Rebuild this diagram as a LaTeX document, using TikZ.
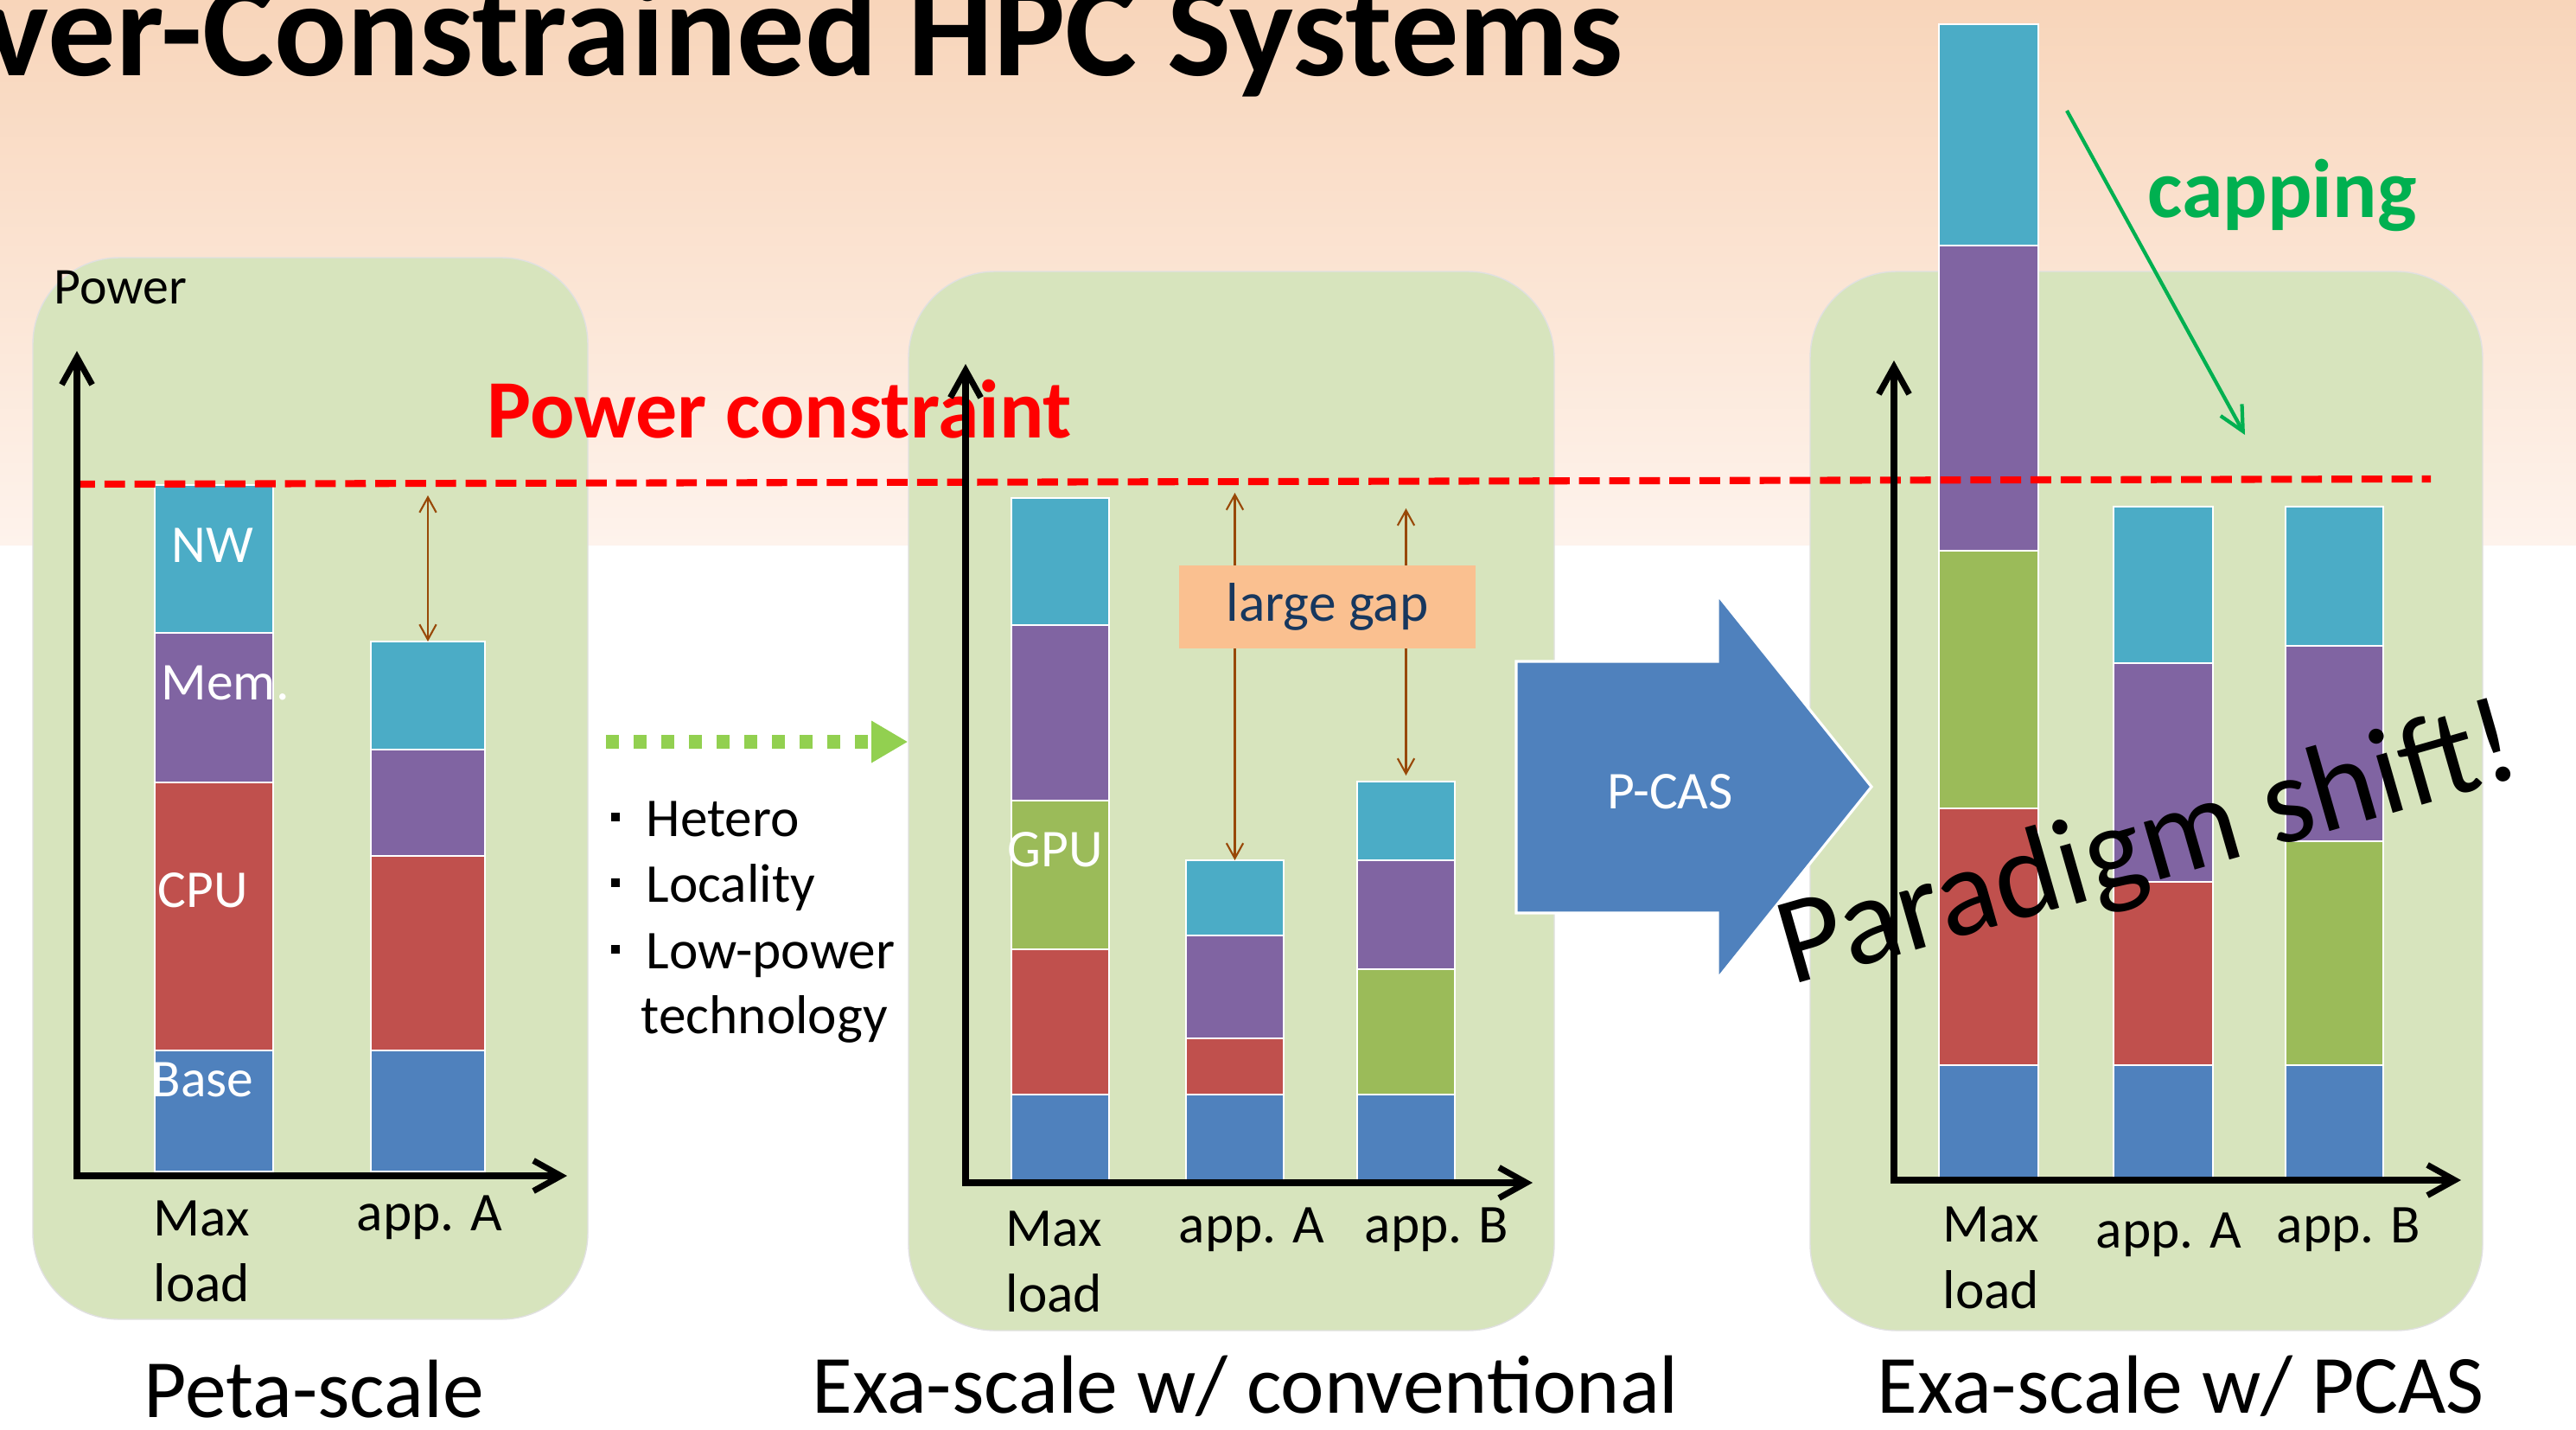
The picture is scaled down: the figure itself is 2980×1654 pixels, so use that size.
\documentclass[tikz,border=0pt]{standalone}
\usepackage{fontspec}
\setmainfont{Carlito}
\usepackage{tikz}
\usetikzlibrary{arrows.meta,positioning,fit,calc}
\definecolor{SlideTop}{HTML}{F8D5BA}
\definecolor{SlideFade}{HTML}{FEF3EC}
\definecolor{PanelGreen}{HTML}{D7E4BD}
\definecolor{BaseBlue}{HTML}{4F81BD}
\definecolor{CpuRed}{HTML}{C0504D}
\definecolor{MemPurple}{HTML}{8064A2}
\definecolor{NetTeal}{HTML}{4BACC6}
\definecolor{GpuGreen}{HTML}{9BBB59}
\definecolor{GapOrange}{HTML}{FAC090}
\definecolor{GapText}{HTML}{17375E}
\definecolor{GapBrown}{HTML}{984807}
\definecolor{CapGreen}{HTML}{00B050}
\definecolor{ShiftGreen}{HTML}{92D050}
\tikzset{
  panel/.style={draw=black!12, thin, fill=PanelGreen, rounded corners=1cm, inner sep=0pt},
  barpart/.style={draw=white, line width=0.6pt, inner sep=0pt, outer sep=0pt},
  axisline/.style={line width=2pt, >={Straight Barb[length=9pt,width=10pt]}, <->},
  limitline/.style={draw=red, line width=2.3pt, dash pattern=on 6.8pt off 3.1pt},
  gapwire/.style={draw=GapBrown, line width=0.6pt, >={Straight Barb[length=5pt,width=5.5pt]}, <->},
  capwire/.style={draw=CapGreen, line width=1.2pt, -{Straight Barb[length=8pt,width=8pt]}},
  shiftwire/.style={draw=ShiftGreen, line width=4.3pt, dash pattern=on 4.3pt off 4.8pt,
    -{Triangle[length=12pt,width=13pt]}},
  gapbox/.style={fill=GapOrange, text=GapText, inner sep=0pt, minimum width=3.43cm,
    minimum height=0.96cm, font=\fontsize{18}{21.6}\selectfont},
  axislabel/.style={inner sep=0pt, anchor=base west, font=\fontsize{18}{21.6}\selectfont},
  inbar/.style={axislabel, text=white, font=\fontsize{17.5}{21}\selectfont},
  caption/.style={axislabel, font=\fontsize{27.2}{32}\selectfont},
  shout/.style={axislabel, font=\fontsize{27.3}{32}\selectfont\bfseries},
  bulletmark/.style={fill=black, inner sep=0pt, minimum size=0.1cm}
}
\newcommand{\stackbar}[4]{%
  \foreach \seg/\col/\ya/\yb in {#4}
    \node[barpart, fill=\col, fit={(#2,\ya) (#3,\yb)}] (#1\seg) {};%
}

\begin{document}
\begin{tikzpicture}[x=0.01cm, y=-0.01cm]
  \useasboundingbox (0,0) rectangle (2980,1654);
  \clip (0,0) rectangle (2980,1654);
  \fill[white] (0,0) rectangle (2980,1654);
  \shade[top color=SlideTop, bottom color=SlideFade] (0,0) rectangle (2980,630);

  \node[shout, anchor=base east, font=\fontsize{44.5}{52}\selectfont\bfseries] (title) at (1878,87)
    {ver-Constrained HPC Systems};

  % the three scenarios
  \node[panel, fit={(38,298) (680,1526)}] (peta) {};
  \node[panel, fit={(1051,314) (1798,1539)}] (exa) {};
  \node[panel, fit={(2094,314) (2872,1539)}] (pcas) {};

  \node[shout, text=red] (constraint) at (563,506) {Power constraint};

  % stacked bars
  \stackbar{petaMax}{179}{316}{Nw/NetTeal/561/732, Mem/MemPurple/732/905, Cpu/CpuRed/905/1215, Base/BaseBlue/1215/1355}
  \stackbar{petaApp}{429}{561}{Nw/NetTeal/742/867, Mem/MemPurple/867/990, Cpu/CpuRed/990/1215, Base/BaseBlue/1215/1355}
  \stackbar{exaMax}{1170}{1283}{Nw/NetTeal/576/723, Mem/MemPurple/723/926, Gpu/GpuGreen/926/1098, Cpu/CpuRed/1098/1266, Base/BaseBlue/1266/1365}
  \stackbar{exaAppA}{1372}{1485}{Nw/NetTeal/995/1082, Mem/MemPurple/1082/1201, Cpu/CpuRed/1201/1266, Base/BaseBlue/1266/1365}
  \stackbar{exaAppB}{1570}{1683}{Nw/NetTeal/904/995, Mem/MemPurple/995/1121, Gpu/GpuGreen/1121/1266, Base/BaseBlue/1266/1365}
  \stackbar{pcasMax}{2243}{2358}{Nw/NetTeal/28/284, Mem/MemPurple/284/637, Gpu/GpuGreen/637/935, Cpu/CpuRed/935/1232, Base/BaseBlue/1232/1362}
  \stackbar{pcasAppA}{2445}{2560}{Nw/NetTeal/586/767, Mem/MemPurple/767/1020, Cpu/CpuRed/1020/1232, Base/BaseBlue/1232/1362}
  \stackbar{pcasAppB}{2644}{2757}{Nw/NetTeal/586/747, Mem/MemPurple/747/973, Gpu/GpuGreen/973/1232, Base/BaseBlue/1232/1362}

  \coordinate (limitL) at (86,560);
  \coordinate (limitR) at (2812,554);
  \draw[limitline] (limitL) -- (limitR);

  % axes
  \coordinate (petaTop) at (89,406);
  \coordinate (petaO) at (89,1360);
  \coordinate (petaEnd) at (656,1360);
  \draw[axisline] (petaTop) -- (petaO) -- (petaEnd);
  \coordinate (exaTop) at (1117,421);
  \coordinate (exaO) at (1117,1368);
  \coordinate (exaEnd) at (1773,1368);
  \draw[axisline] (exaTop) -- (exaO) -- (exaEnd);
  \coordinate (pcasTop) at (2191,417);
  \coordinate (pcasO) at (2191,1365);
  \coordinate (pcasEnd) at (2847,1365);
  \draw[axisline] (pcasTop) -- (pcasO) -- (pcasEnd);

  % gaps below the constraint
  \coordinate (petaGap) at (495,573);
  \draw[gapwire] (petaGap) -- (petaAppNw.north);
  \coordinate (exaGapA) at (1428.5,570);
  \draw[gapwire] (exaGapA) -- (exaAppANw.north);
  \coordinate (exaGapB) at (1626.5,588);
  \draw[gapwire, shorten >=2pt] (exaGapB) -- (exaAppBNw.north);
  \node[gapbox] (gap) at (1535.5,702) {large gap};

  \coordinate (shiftStart) at (701,858);
  \draw[shiftwire] (shiftStart) -- (shiftStart -| exa.west);
  \node[bulletmark] (dotA) at (712,945) {};
  \node[bulletmark] (dotB) at (712,1021) {};
  \node[bulletmark] (dotC) at (712,1098) {};
  \node[axislabel] (hetero) at (747,967) {Hetero};
  \node[axislabel] (locality) at (747,1043) {Locality};
  \node[axislabel] (lowpower) at (747,1120) {Low-power};
  \node[axislabel] (technology) at (741,1195) {technology};

  \filldraw[fill=BaseBlue, draw=white, line width=0.9pt] (1754,765) -- (1987,765) -- (1987,688)
    -- (2165,910) -- (1987,1132) -- (1987,1056) -- (1754,1056) -- cycle;
  \node[inbar, anchor=base] (pcasText) at (1932,935) {P-CAS};

  \coordinate (capFrom) at (2391,128);
  \coordinate (capTo) at (2597,503);
  \draw[capwire] (capFrom) -- (capTo);
  \node[shout, text=CapGreen] (capping) at (2484,251) {capping};

  % labels
  \node[axislabel, font=\fontsize{17}{20}\selectfont] (powerLabel) at (62,351) {Power};
  \node[inbar] (nwLabel) at (198,650) {NW};
  \node[inbar] (memLabel) at (186,809) {Mem.};
  \node[inbar] (cpuLabel) at (182,1049) {CPU};
  \node[inbar] (baseLabel) at (175,1268) {Base};
  \node[inbar] (gpuLabel) at (1165,1002) {GPU};

  \node[axislabel] (petaMaxL) at (177,1429) {Max};
  \node[axislabel] (petaLoadL) at (177,1505) {load};
  \node[axislabel] (petaAppL) at (412,1423) {app. A};
  \node[axislabel] (exaMaxL) at (1163,1441) {Max};
  \node[axislabel] (exaLoadL) at (1163,1517) {load};
  \node[axislabel] (exaAppAL) at (1363,1437) {app. A};
  \node[axislabel] (exaAppBL) at (1578,1437) {app. B};
  \node[axislabel] (pcasMaxL) at (2247,1436) {Max};
  \node[axislabel] (pcasLoadL) at (2247,1513) {load};
  \node[axislabel] (pcasAppAL) at (2424,1443) {app. A};
  \node[axislabel] (pcasAppBL) at (2633,1437) {app. B};

  \node[caption] (petaCap) at (166,1639) {Peta-scale};
  \node[caption] (exaCap) at (939,1634) {Exa-scale w/ conventional};
  \node[caption] (pcasCap) at (2171,1634) {Exa-scale w/ PCAS};

  \node[axislabel, rotate=16, font=\fontsize{41}{49}\selectfont] (shift) at (2072,1140) {Paradigm shift!};
\end{tikzpicture}
\end{document}
